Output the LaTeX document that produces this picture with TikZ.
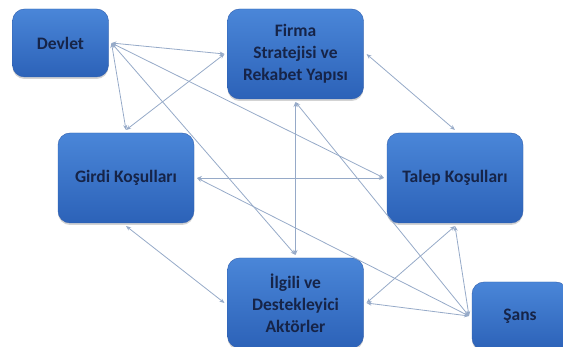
\documentclass[tikz,border=0pt]{standalone}
\usepackage{fontspec}
\setmainfont{Carlito}
\usetikzlibrary{arrows.meta, shadows}
\definecolor{boxtop}{RGB}{74,134,216}
\definecolor{boxbottom}{RGB}{44,98,184}
\definecolor{boxedge}{RGB}{50,96,174}
\definecolor{boxtext}{RGB}{22,36,72}
\definecolor{linkgrey}{RGB}{150,170,200}
\tikzset{
    factor/.style={rectangle, rounded corners=12pt, draw=boxedge, top color=boxtop, bottom color=boxbottom,
        minimum width=136pt, minimum height=90pt, text=boxtext, align=center,
        font=\bfseries\fontsize{17.5}{22}\selectfont, outer sep=3pt,
        drop shadow={opacity=0.35, shadow xshift=0pt, shadow yshift=-2pt}},
    small factor/.style={factor, minimum width=96pt, minimum height=68pt},
    link/.style={{Stealth[length=5pt,width=4pt]}-{Stealth[length=5pt,width=4pt]}, draw=linkgrey, line width=0.8pt}
}

\begin{document}
\begin{tikzpicture}[x=1pt, y=-1pt]
    \useasboundingbox (0,0) rectangle (563,347);

    %Boxes
    \node[small factor] (devlet) at (60.5, 43) {Devlet};
    \node[factor] (firma) at (295.5, 54) {Firma\\Stratejisi ve\\Rekabet Yapısı};
    \node[factor] (girdi) at (126, 178) {Girdi Koşulları};
    \node[factor] (talep) at (455, 178) {Talep Koşulları};
    \node[factor] (ilgili) at (295.5, 303) {İlgili ve\\Destekleyici\\Aktörler};
    \node[small factor] (sans) at (520, 316) {Şans};


    %Lines (from Devlet)
    \draw[link] (devlet.east) -- (firma.west);
    \draw[link] (devlet.east) -- (girdi.north);
    \draw[link] (devlet.east) -- (ilgili.north);
    \draw[link] (devlet.east) -- (talep.west);

    %Lines (from Firma)
    \draw[link] (firma.west) -- (girdi.north);
    \draw[link] (firma.east) -- (talep.north);
    \draw[link] (firma.south) -- (ilgili.north);
    \draw[link] (firma.south) -- (sans.west);

    %Lines (from Girdi)
    \draw[link] (girdi.east) -- (talep.west);
    \draw[link] (girdi.south) -- (ilgili.west);
    \draw[link] (girdi.east) -- (sans.west);

    %Lines (to Ilgili and Sans)
    \draw[link] (talep.south) -- (ilgili.east);
    \draw[link] (talep.south) -- (sans.west);
    \draw[link] (ilgili.east) -- (sans.west);
\end{tikzpicture}
\end{document}
